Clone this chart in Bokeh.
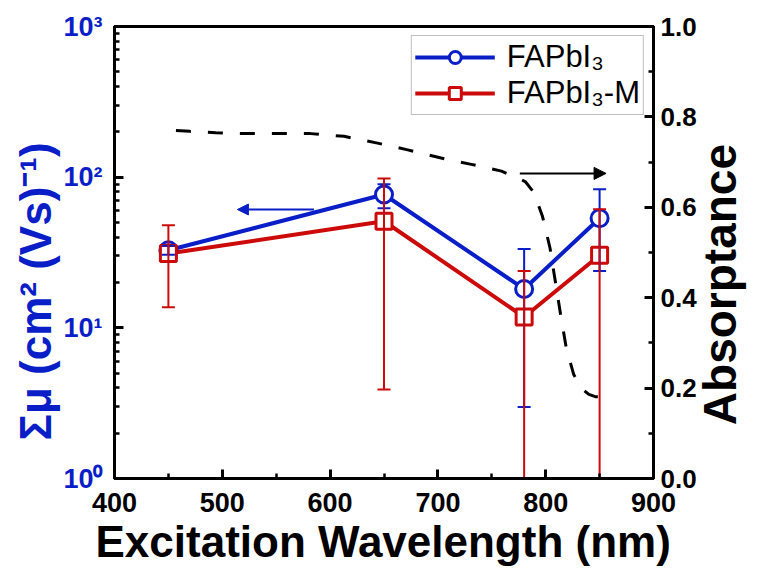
import math
from bokeh.plotting import figure
from bokeh.models import (Range1d, LinearScale, LinearAxis, FixedTicker, Arrow,
                          NormalHead, Legend, LegendItem, NumeralTickFormatter, Title)
from bokeh.embed import file_html
from bokeh.resources import INLINE

# ---------------- data ----------------
wavelength = [450, 650, 780, 850]

mu_fapbi3 = [32.7, 76.7, 18.1, 53.4]
mu_fapbi3_upper = [35.0, 89.8, 33.3, 83.2]
mu_fapbi3_lower = [30.5, 62.2, 2.98, 23.8]

mu_fapbi3m = [31.1, 51.0, 11.8, 30.3]
mu_fapbi3m_upper = [48.0, 97.9, 23.8, 61.2]
mu_fapbi3m_lower = [13.7, 3.9, 0.01, 0.01]   # last two run below the axis

abs_wl = [457, 470, 494, 524, 554, 582, 613, 644, 672, 703, 731, 759, 781, 789,
          797, 804, 810, 814, 819, 826, 833, 840, 846, 860]
abs_val = [0.770, 0.768, 0.765, 0.763, 0.763, 0.763, 0.757, 0.742, 0.727, 0.709,
           0.695, 0.680, 0.657, 0.633, 0.580, 0.510, 0.420, 0.360, 0.290, 0.230,
           0.200, 0.186, 0.181, 0.180]

left_arrow_x = [585, 514]
left_arrow_mu = 61
right_arrow_x = [776, 856]
right_arrow_abs = 0.675

x_ticks = [400, 500, 600, 700, 800, 900]
x_minor = [450, 550, 650, 750, 850]
mu_ticks = [1, 10, 100, 1000]
mu_labels = ["10\u2070", "10\u00b9", "10\u00b2", "10\u00b3"]
abs_ticks = [0.0, 0.2, 0.4, 0.6, 0.8, 1.0]
abs_minor = [0.1, 0.3, 0.5, 0.7, 0.9]

labels = ["FAPbI\u2083", "FAPbI\u2083-M"]
x_title = "Excitation Wavelength (nm)"
left_title = "\u03a3\u03bc (cm\u00b2 (Vs)\u207b\u00b9)"
right_title = "Absorptance"
right_title_start = 0.118   # absorptance level where the right title begins

BLUE = "#0A1EC8"
RED = "#CC0A0A"
FONT = "Liberation Sans"

# ---------------- figure ----------------
p = figure(width=775, height=576, output_backend="svg", toolbar_location=None,
           x_range=Range1d(400, 900), y_range=Range1d(1, 1000), y_axis_type="log",
           min_border_left=114, min_border_right=96, min_border_top=26,
           min_border_bottom=98)
p.extra_y_ranges = {"abs": Range1d(0, 1)}
p.extra_y_scales = {"abs": LinearScale()}

p.xgrid.visible = False
p.ygrid.visible = False
p.outline_line_color = "black"
p.outline_line_width = 3
p.background_fill_color = "white"
p.border_fill_color = "white"

right_axis = LinearAxis(y_range_name="abs")
p.add_layout(right_axis, "right")

minor_mu = [m * d for d in (1, 10, 100) for m in range(2, 10)]

for ax in (p.xaxis[0], p.yaxis[0], right_axis):
    ax.axis_line_width = 3
    ax.axis_line_color = "black"
    ax.major_tick_line_width = 3
    ax.minor_tick_line_width = 2.5
    ax.major_tick_in = 9
    ax.major_tick_out = 0
    ax.minor_tick_in = 5
    ax.minor_tick_out = 0
    ax.major_label_text_font = FONT
    ax.major_label_text_font_style = "bold"
    ax.major_label_text_color = "black"
    ax.major_label_text_font_size = "26px"

p.xaxis[0].ticker = FixedTicker(ticks=x_ticks, minor_ticks=x_minor)
p.xaxis[0].major_label_text_font_size = "27px"
p.xaxis[0].major_label_standoff = 14

p.yaxis[0].ticker = FixedTicker(ticks=mu_ticks, minor_ticks=minor_mu)
p.yaxis[0].major_label_overrides = dict(zip(mu_ticks, mu_labels))
p.yaxis[0].major_label_text_color = BLUE
p.yaxis[0].major_label_text_font_size = "27px"
p.yaxis[0].major_label_standoff = 12

right_axis.ticker = FixedTicker(ticks=abs_ticks, minor_ticks=abs_minor)
right_axis.formatter = NumeralTickFormatter(format="0.0")
right_axis.major_label_standoff = 7

# right title: a single rotated tick label on a bare extra axis (reads bottom-to-top)
title_axis = LinearAxis(y_range_name="abs",
                        ticker=FixedTicker(ticks=[right_title_start]),
                        major_label_overrides={right_title_start: right_title},
                        major_label_orientation=math.pi / 2,
                        major_label_standoff=21,
                        major_label_text_font=FONT,
                        major_label_text_font_style="bold",
                        major_label_text_font_size="46px",
                        major_label_text_color="black",
                        axis_line_color=None, major_tick_line_color=None,
                        minor_tick_line_color=None, major_tick_in=0,
                        major_tick_out=0, minor_tick_in=0, minor_tick_out=0)
p.add_layout(title_axis, "right")

# axis titles as side titles (start-aligned with an offset like the original)
p.add_layout(Title(text=left_title, align="left", offset=38, standoff=2,
                   text_font=FONT, text_font_style="bold", text_font_size="44px",
                   text_color=BLUE), "left")
p.add_layout(Title(text=x_title, align="left", offset=-19, standoff=0,
                   text_font=FONT, text_font_style="bold", text_font_size="44px",
                   text_color="black"), "below")

# absorptance dashed curve
p.line(abs_wl, abs_val, y_range_name="abs", line_color="black", line_width=3,
       line_dash="15 17")

# arrows
p.add_layout(Arrow(x_start=left_arrow_x[0], y_start=left_arrow_mu,
                   x_end=left_arrow_x[1], y_end=left_arrow_mu,
                   line_color=BLUE, line_width=2,
                   end=NormalHead(size=11, fill_color=BLUE, line_color=BLUE)))
p.add_layout(Arrow(x_start=right_arrow_x[0], y_start=right_arrow_abs,
                   x_end=right_arrow_x[1], y_end=right_arrow_abs,
                   y_range_name="abs", line_color="black", line_width=2,
                   end=NormalHead(size=12, fill_color="black", line_color="black")))

# series
lb = p.line(wavelength, mu_fapbi3, line_color=BLUE, line_width=4)
lr = p.line(wavelength, mu_fapbi3m, line_color=RED, line_width=4)
sb = p.scatter(wavelength, mu_fapbi3, marker="circle", size=17, line_color=BLUE,
               line_width=3, fill_color="white")
sr = p.scatter(wavelength, mu_fapbi3m, marker="square", size=16, line_color=RED,
               line_width=3, fill_color="white")

# error bars
for ys_up, ys_lo, col in ((mu_fapbi3_upper, mu_fapbi3_lower, BLUE),
                          (mu_fapbi3m_upper, mu_fapbi3m_lower, RED)):
    p.segment(x0=wavelength, y0=ys_lo, x1=wavelength, y1=ys_up, line_color=col,
              line_width=2)
    p.scatter(wavelength, ys_up, marker="dash", size=13, line_color=col, line_width=2)
    p.scatter(wavelength, ys_lo, marker="dash", size=13, line_color=col, line_width=2)

legend = Legend(items=[LegendItem(label=labels[0], renderers=[lb, sb]),
                       LegendItem(label=labels[1], renderers=[lr, sr])],
                location="top_right")
legend.margin = 9
legend.padding = 3
legend.spacing = 0
legend.glyph_width = 80
legend.glyph_height = 30
legend.label_standoff = 12
legend.label_text_font = FONT
legend.label_text_color = "black"
legend.label_text_font_size = "31px"
legend.border_line_color = "#808080"
legend.border_line_width = 1.5
legend.background_fill_alpha = 1
p.add_layout(legend)

open("out.html", "w").write(file_html(p, INLINE))
